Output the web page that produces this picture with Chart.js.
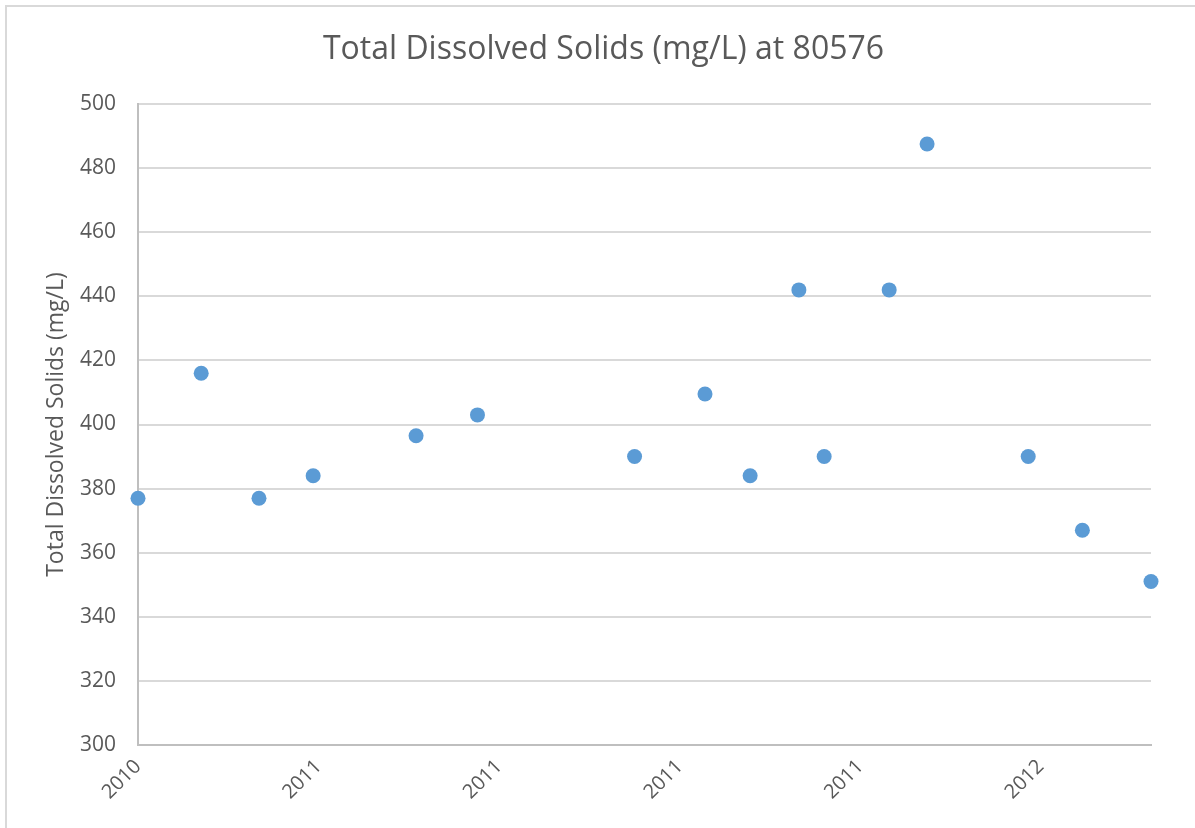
<!DOCTYPE html>
<html>
<head>
<meta charset="utf-8">
<script src="https://cdn.jsdelivr.net/npm/chart.js"></script>
<style>
  html, body { margin: 0; padding: 0; background: #fff; }
  #wrap { width: 1195px; height: 828px; }
</style>
</head>
<body>
<div id="wrap"><canvas id="tds-chart" width="1195" height="828"></canvas></div>
<script>
// sampling dates and Total Dissolved Solids readings (mg/L)
const sampleDates = [
  "2010-10-10", "2010-11-14", "2010-12-16", "2011-01-15",
  "2011-03-13", "2011-04-16", "2011-07-12", "2011-08-20",
  "2011-09-14", "2011-10-11", "2011-10-25", "2011-11-30",
  "2011-12-21", "2012-02-15", "2012-03-16", "2012-04-23"
];
const tdsValues = [
  377, 416, 377, 384,
  396.5, 403, 390, 409.5,
  384, 442, 390, 442,
  487.5, 390, 367, 351
];
const axisStart = "2010-10-10";
const axisEnd = "2012-04-23";
const tickStepDays = 100;
const chartTitle = "Total Dissolved Solids (mg/L) at 80576";

const DAY = 86400000;
function toDays(s) {
  return Date.parse(s + "T00:00:00Z") / DAY;
}
function yearLabel(d) {
  return String(new Date(d * DAY).getUTCFullYear());
}

const grey = "#595959";
const fontFam = "'Open Sans', 'Noto Sans', sans-serif";

// light frame + title centred on the whole canvas
const framePlugin = {
  id: "frame",
  beforeDraw(chart) {
    const ctx = chart.ctx;
    ctx.save();
    ctx.fillStyle = "#fff";
    ctx.fillRect(0, 0, chart.width, chart.height);
    ctx.strokeStyle = "#d9d9d9";
    ctx.lineWidth = 2;
    ctx.strokeRect(6, 6, chart.width + 10, chart.height + 10);
    ctx.fillStyle = grey;
    ctx.font = "32px " + fontFam;
    ctx.textAlign = "center";
    ctx.textBaseline = "middle";
    ctx.fillText(chartTitle, chart.width / 2 + 6, 50);
    ctx.restore();
  }
};

const pts = sampleDates.map((d, i) => ({ x: toDays(d), y: tdsValues[i] }));
const xMin = toDays(axisStart);
const xMax = toDays(axisEnd);

new Chart(document.getElementById("tds-chart"), {
  type: "scatter",
  data: {
    datasets: [{
      label: "TDS",
      data: pts,
      backgroundColor: "#5b9bd5",
      borderColor: "#5b9bd5",
      pointRadius: 7.5,
      pointHoverRadius: 7.5,
      borderWidth: 0,
      clip: false
    }]
  },
  options: {
    responsive: false,
    animation: false,
    layout: { padding: { left: 0, right: 44, top: 104, bottom: 0 } },
    plugins: {
      legend: { display: false },
      tooltip: { enabled: false },
      title: { display: false }
    },
    scales: {
      x: {
        type: "linear",
        min: xMin,
        max: xMax,
        afterBuildTicks(scale) {
          const t = [];
          for (let v = xMin; v <= xMax; v += tickStepDays) t.push({ value: v });
          scale.ticks = t;
        },
        afterFit(scale) { scale.height = 83; },
        grid: { display: false, drawTicks: false },
        border: { display: true, color: "#bfbfbf", width: 2 },
        ticks: {
          color: grey,
          font: { family: fontFam, size: 20 },
          minRotation: 45,
          maxRotation: 45,
          padding: 10,
          autoSkip: false,
          callback: (v) => yearLabel(v)
        }
      },
      y: {
        min: 300,
        max: 500,
        afterFit(scale) { scale.width = 138; },
        grid: { color: "#d9d9d9", lineWidth: 2, drawTicks: false },
        border: { display: true, color: "#bfbfbf", width: 2 },
        ticks: {
          stepSize: 20,
          color: grey,
          font: { family: fontFam, size: 21 },
          padding: 22
        },
        title: {
          display: true,
          text: "Total Dissolved Solids (mg/L)",
          color: grey,
          font: { family: fontFam, size: 23, lineHeight: 1.2 },
          padding: { top: 43, bottom: 0 }
        }
      }
    }
  },
  plugins: [framePlugin]
});
</script>
</body>
</html>
